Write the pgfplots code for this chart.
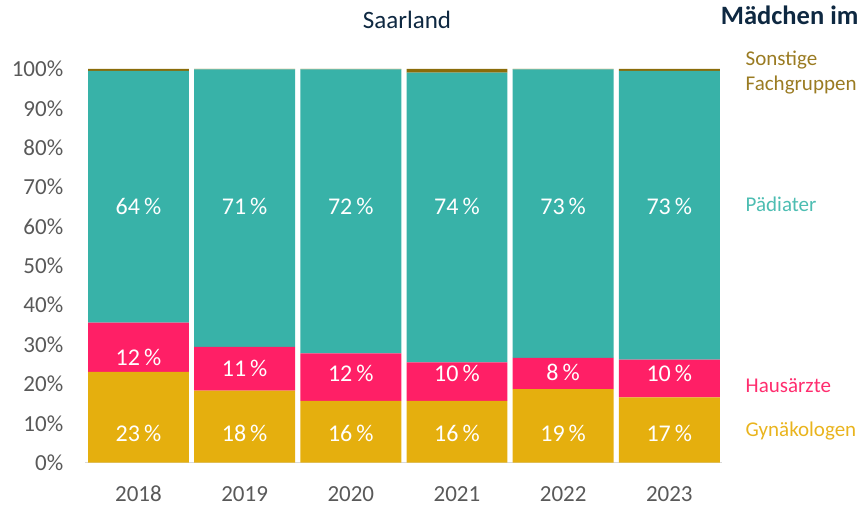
\documentclass[border=0pt]{standalone}
\usepackage{pgfplots}
\pgfplotsset{compat=1.18}
\usepackage{fontspec}
\setmainfont{Carlito}
\definecolor{cteal}{HTML}{38B2A8}
\definecolor{cpink}{HTML}{FF1F66}
\definecolor{cgold}{HTML}{E5AF0E}
\definecolor{cbrown}{HTML}{8B6C0A}
\definecolor{tsonst}{HTML}{9A7B22}
\definecolor{tteal}{HTML}{4DBDB2}
\definecolor{tpink}{HTML}{FF2D6E}
\definecolor{tgold}{HTML}{E9B41E}
\definecolor{navy}{HTML}{0E2841}
\definecolor{tickgray}{HTML}{595959}
\begin{document}
\begin{tikzpicture}
\useasboundingbox (0pt,0pt) rectangle (859pt,507pt);
\begin{axis}[
  at={(85.4pt,44.3pt)}, anchor=south west,
  scale only axis, width=637pt, height=393.7pt,
  xmin=-0.5, xmax=5.5, ymin=0, ymax=100,
  enlargelimits=false,
  ybar stacked, bar width=0.951,
  axis lines*=left,
  y axis line style={draw=none},
  x axis line style={draw=black!15, line width=1.5pt},
  major tick length=0pt,
  xtick={0,...,5}, xticklabels={2018,2019,2020,2021,2022,2023},
  ytick={0,10,...,100},
  yticklabel={\pgfmathprintnumber{\tick}\%},
  /pgf/number format/assume math mode=true,
  ticklabel style={font=\fontsize{23}{26}\selectfont, text=tickgray},
  yticklabel style={anchor=east, inner sep=0pt, xshift=-22pt},
  xticklabel style={anchor=base, inner sep=0pt, yshift=-38.5pt},
  clip=false,
]
\addplot[fill=cgold, draw=none] coordinates {(0,23.1) (1,18.3) (2,15.7) (3,15.7) (4,18.7) (5,16.6)};
\addplot[fill=cpink, draw=none] coordinates {(0,12.5) (1,11.1) (2,12.1) (3,9.8) (4,7.9) (5,9.6)};
\addplot[fill=cteal, draw=none] coordinates {(0,63.9) (1,70.5) (2,72.1) (3,73.6) (4,73.3) (5,73.3)};
\addplot[fill=cbrown, draw=none] coordinates {(0,0.5) (1,0.1) (2,0.1) (3,0.9) (4,0.1) (5,0.5)};
\coordinate (t0) at (axis cs:0,65);
\coordinate (t1) at (axis cs:1,65);
\coordinate (t2) at (axis cs:2,65);
\coordinate (t3) at (axis cs:3,65);
\coordinate (t4) at (axis cs:4,65);
\coordinate (t5) at (axis cs:5,65);
\coordinate (p0) at (axis cs:0,26.8);
\coordinate (p1) at (axis cs:1,24.0);
\coordinate (p2) at (axis cs:2,22.8);
\coordinate (p3) at (axis cs:3,22.8);
\coordinate (p4) at (axis cs:4,22.9);
\coordinate (p5) at (axis cs:5,22.8);
\coordinate (g0) at (axis cs:0,7.5);
\coordinate (g1) at (axis cs:1,7.5);
\coordinate (g2) at (axis cs:2,7.5);
\coordinate (g3) at (axis cs:3,7.5);
\coordinate (g4) at (axis cs:4,7.5);
\coordinate (g5) at (axis cs:5,7.5);
\end{axis}
\tikzset{lbl/.style={text=white, font=\fontsize{24}{26}\selectfont, anchor=center, inner sep=0pt}}
\node[lbl] at (t0) {64\,\%};
\node[lbl] at (t1) {71\,\%};
\node[lbl] at (t2) {72\,\%};
\node[lbl] at (t3) {74\,\%};
\node[lbl] at (t4) {73\,\%};
\node[lbl] at (t5) {73\,\%};
\node[lbl] at (p0) {12\,\%};
\node[lbl] at (p1) {11\,\%};
\node[lbl] at (p2) {12\,\%};
\node[lbl] at (p3) {10\,\%};
\node[lbl] at (p4) {8\,\%};
\node[lbl] at (p5) {10\,\%};
\node[lbl] at (g0) {23\,\%};
\node[lbl] at (g1) {18\,\%};
\node[lbl] at (g2) {16\,\%};
\node[lbl] at (g3) {16\,\%};
\node[lbl] at (g4) {19\,\%};
\node[lbl] at (g5) {17\,\%};
\tikzset{rl/.style={anchor=west, inner sep=0pt, font=\fontsize{21}{25}\selectfont}}
\node[rl, text=tsonst] at (745.5pt,447pt) {Sonstige};
\node[rl, text=tsonst] at (745.5pt,422pt) {Fachgruppen};
\node[rl, text=tteal] at (745.5pt,303pt) {Pädiater};
\node[rl, text=tpink] at (745.5pt,121pt) {Hausärzte};
\node[rl, text=tgold] at (745.5pt,76pt) {Gynäkologen};
\node[anchor=center, inner sep=0pt, text=navy, font=\fontsize{25}{28}\selectfont] at (407pt,487pt) {Saarland};
\node[anchor=east, inner sep=0pt, text=navy, font=\fontsize{26.5}{30}\selectfont\bfseries] at (858.5pt,492pt) {Mädchen im};
\end{tikzpicture}
\end{document}
